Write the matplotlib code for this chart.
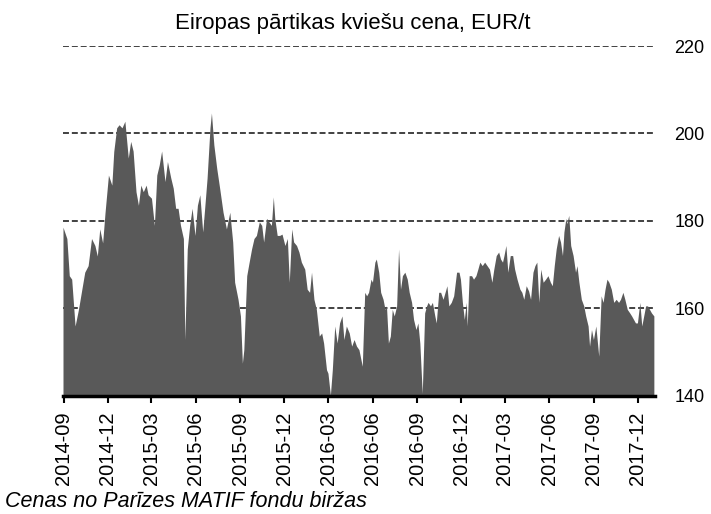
import matplotlib
matplotlib.use("Agg")
import matplotlib.pyplot as plt
import matplotlib.dates as mdates
import pandas as pd

plt.rcParams['font.family'] = ['Liberation Sans', 'DejaVu Sans']

# datumi un cenas (EUR/t), nolasīti no attēla
dates = [
    '2014-08-30', '2014-09-07', '2014-09-12', '2014-09-17', '2014-09-24', '2014-10-01',
    '2014-10-08', '2014-10-14', '2014-10-21', '2014-10-28', '2014-11-04', '2014-11-09',
    '2014-11-14', '2014-11-20', '2014-11-25', '2014-12-02', '2014-12-09', '2014-12-13',
    '2014-12-19', '2014-12-24', '2014-12-30', '2015-01-05', '2015-01-12', '2015-01-17',
    '2015-01-22', '2015-01-28', '2015-02-02', '2015-02-07', '2015-02-12', '2015-02-18',
    '2015-02-22', '2015-03-01', '2015-03-07', '2015-03-12', '2015-03-17', '2015-03-22',
    '2015-03-29', '2015-04-03', '2015-04-10', '2015-04-15', '2015-04-20', '2015-04-25',
    '2015-04-30', '2015-05-06', '2015-05-09', '2015-05-14', '2015-05-19', '2015-05-24',
    '2015-05-30', '2015-06-04', '2015-06-09', '2015-06-15', '2015-06-19', '2015-06-24',
    '2015-06-30', '2015-07-03', '2015-07-08', '2015-07-14', '2015-07-20', '2015-07-27',
    '2015-08-03', '2015-08-10', '2015-08-16', '2015-08-20', '2015-08-27', '2015-09-01',
    '2015-09-05', '2015-09-08', '2015-09-14', '2015-09-19', '2015-09-24', '2015-09-29',
    '2015-10-04', '2015-10-10', '2015-10-15', '2015-10-19', '2015-10-25', '2015-10-30',
    '2015-11-04', '2015-11-08', '2015-11-11', '2015-11-16', '2015-11-21', '2015-11-26',
    '2015-12-02', '2015-12-07', '2015-12-11', '2015-12-16', '2015-12-20', '2015-12-26',
    '2015-12-31', '2016-01-05', '2016-01-12', '2016-01-17', '2016-01-22', '2016-01-26',
    '2016-01-31', '2016-02-05', '2016-02-11', '2016-02-16', '2016-02-20', '2016-02-26',
    '2016-02-29', '2016-03-05', '2016-03-09', '2016-03-14', '2016-03-19', '2016-03-24',
    '2016-03-29', '2016-04-02', '2016-04-07', '2016-04-13', '2016-04-18', '2016-04-23',
    '2016-04-28', '2016-05-03', '2016-05-10', '2016-05-15', '2016-05-19', '2016-05-23',
    '2016-05-28', '2016-05-31', '2016-06-05', '2016-06-08', '2016-06-13', '2016-06-17',
    '2016-06-22', '2016-06-26', '2016-06-29', '2016-07-03', '2016-07-07', '2016-07-11',
    '2016-07-15', '2016-07-20', '2016-07-24', '2016-07-28', '2016-08-01', '2016-08-06',
    '2016-08-11', '2016-08-15', '2016-08-20', '2016-08-24', '2016-08-29', '2016-09-02',
    '2016-09-06', '2016-09-11', '2016-09-16', '2016-09-20', '2016-09-23', '2016-09-28',
    '2016-10-02', '2016-10-07', '2016-10-10', '2016-10-15', '2016-10-19', '2016-10-24',
    '2016-10-30', '2016-11-01', '2016-11-05', '2016-11-10', '2016-11-15', '2016-11-21',
    '2016-11-26', '2016-11-29', '2016-12-03', '2016-12-07', '2016-12-11', '2016-12-13',
    '2016-12-17', '2016-12-22', '2016-12-26', '2016-12-31', '2017-01-04', '2017-01-08',
    '2017-01-13', '2017-01-18', '2017-01-23', '2017-01-28', '2017-02-02', '2017-02-06',
    '2017-02-11', '2017-02-16', '2017-02-20', '2017-02-24', '2017-02-27', '2017-03-03',
    '2017-03-07', '2017-03-12', '2017-03-17', '2017-03-21', '2017-03-26', '2017-04-01',
    '2017-04-05', '2017-04-09', '2017-04-14', '2017-04-19', '2017-04-23', '2017-04-28',
    '2017-05-02', '2017-05-06', '2017-05-10', '2017-05-14', '2017-05-19', '2017-05-24',
    '2017-05-29', '2017-06-03', '2017-06-07', '2017-06-11', '2017-06-15', '2017-06-20',
    '2017-06-24', '2017-06-28', '2017-07-01', '2017-07-05', '2017-07-07', '2017-07-11',
    '2017-07-15', '2017-07-20', '2017-07-25', '2017-07-28', '2017-08-01', '2017-08-06',
    '2017-08-11', '2017-08-15', '2017-08-20', '2017-08-23', '2017-08-27', '2017-08-31',
    '2017-09-05', '2017-09-09', '2017-09-11', '2017-09-16', '2017-09-20', '2017-09-24',
    '2017-09-28', '2017-10-02', '2017-10-07', '2017-10-12', '2017-10-17', '2017-10-22',
    '2017-10-26', '2017-10-31', '2017-11-04', '2017-11-09', '2017-11-14', '2017-11-18',
    '2017-11-22', '2017-11-26', '2017-11-30', '2017-12-05', '2017-12-09', '2017-12-13',
    '2017-12-17', '2017-12-21', '2017-12-25', '2017-12-29', '2018-01-03',
]

prices = [
    178.6, 176.0, 167.5, 166.7, 156.0, 159.8,
    164.4, 168.3, 169.8, 176.0, 174.4, 172.0,
    178.2, 175.0, 182.0, 190.5, 188.2, 195.9,
    201.3, 202.0, 201.3, 202.8, 194.4, 198.2,
    196.0, 186.7, 183.6, 188.2, 186.7, 188.2,
    186.0, 185.2, 179.0, 190.5, 192.8, 196.0,
    189.0, 193.6, 189.8, 187.5, 182.9, 182.9,
    179.0, 176.0, 152.9, 173.6, 179.0, 182.9,
    176.7, 183.6, 186.0, 177.5, 182.9, 189.8,
    201.3, 204.7, 197.4, 192.0, 187.5, 182.0,
    178.2, 182.0, 175.2, 166.0, 162.1, 158.3,
    147.5, 150.6, 167.5, 170.6, 173.6, 176.0,
    176.7, 179.8, 179.0, 175.2, 180.6, 179.8,
    179.0, 185.5, 180.6, 176.7, 176.7, 177.0,
    174.4, 176.0, 166.0, 178.2, 175.2, 174.4,
    172.9, 170.6, 169.0, 164.4, 163.7, 168.3,
    162.1, 159.8, 153.7, 154.4, 152.1, 146.0,
    145.2, 140.2, 146.0, 156.0, 152.1, 156.7,
    158.3, 152.9, 156.0, 154.4, 151.4, 152.9,
    151.4, 150.6, 146.8, 163.7, 162.9, 163.7,
    166.7, 166.0, 170.6, 171.3, 168.3, 163.7,
    162.1, 159.8, 160.6, 152.1, 153.7, 159.8,
    158.3, 160.6, 173.6, 164.4, 167.5, 168.3,
    166.7, 163.7, 161.4, 157.5, 155.2, 156.7,
    152.1, 140.6, 159.0, 160.6, 161.4, 160.6,
    161.4, 158.3, 156.7, 163.7, 163.7, 162.1,
    164.4, 165.2, 160.6, 161.4, 162.9, 168.3,
    168.3, 166.7, 161.4, 157.5, 161.4, 156.0,
    167.5, 167.5, 166.7, 167.5, 169.0, 170.6,
    169.8, 170.6, 169.8, 169.0, 166.0, 169.0,
    172.1, 172.9, 171.3, 170.6, 172.1, 174.4,
    168.3, 172.1, 172.1, 169.0, 166.7, 164.4,
    163.7, 162.1, 165.2, 164.0, 162.1, 168.3,
    169.8, 170.6, 161.4, 169.0, 166.0, 166.7,
    167.5, 166.0, 165.2, 169.8, 173.6, 176.7,
    175.2, 172.1, 177.5, 180.6, 179.4, 181.3,
    174.4, 172.1, 168.3, 169.8, 166.0, 162.1,
    160.6, 158.3, 156.0, 151.4, 155.2, 152.9,
    156.0, 151.4, 149.1, 162.9, 161.4, 164.4,
    166.7, 166.0, 164.4, 161.4, 162.1, 161.4,
    162.1, 163.7, 162.1, 159.8, 159.0, 158.3,
    157.5, 156.7, 156.7, 161.4, 156.0, 158.3,
    160.6, 160.6, 159.8, 159.0, 158.3,
]

y_ticks = [140, 160, 180, 200, 220]

df = pd.DataFrame({'date': pd.to_datetime(dates), 'price': prices})

fig = plt.figure(figsize=(7.11, 5.14), dpi=100)
ax = fig.add_axes([0.0886, 0.2296, 0.8324, 0.6809])

ax.fill_between(df['date'], 140, df['price'], color='#595959', linewidth=0, zorder=2)

ax.set_ylim(140, 220)
ax.set_xlim(pd.Timestamp('2014-08-30'), pd.Timestamp('2018-01-05'))

# pārtrauktās līnijas aiz laukuma
for v in y_ticks[1:]:
    ax.axhline(v, color='#333333', linewidth=1.3, linestyle=(0, (3.3, 1.6)), zorder=1)

ax.yaxis.tick_right()
ax.set_yticks(y_ticks)
ax.tick_params(axis='y', length=0, pad=14, labelsize=13)

ax.xaxis.set_major_locator(mdates.MonthLocator(bymonth=[3, 6, 9, 12]))
ax.xaxis.set_major_formatter(mdates.DateFormatter('%Y-%m'))
ax.tick_params(axis='x', length=5, width=1.5, color='black', labelsize=14.5,
               labelrotation=90, pad=6)

for s in ['left', 'right', 'top']:
    ax.spines[s].set_visible(False)
ax.spines['bottom'].set_linewidth(2.5)
ax.spines['bottom'].set_color('black')
ax.spines['bottom'].set_zorder(3)

fig.text(0.496, 0.955, 'Eiropas pārtikas kviešu cena, EUR/t', ha='center', va='center', fontsize=16)
fig.text(0.007, 0.025, 'Cenas no Parīzes MATIF fondu biržas', ha='left', va='center',
         fontsize=15.5, style='italic')

fig.savefig('out.png', dpi=100)
